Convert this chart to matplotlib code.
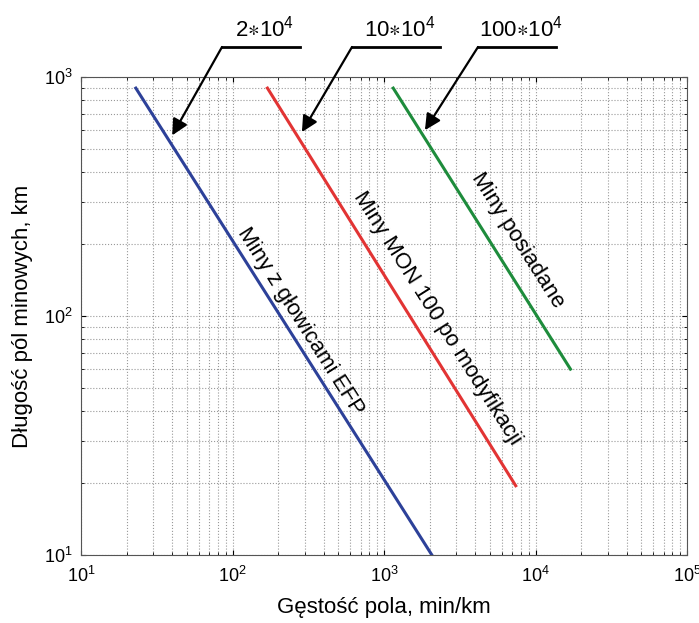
import matplotlib
matplotlib.use("Agg")
import matplotlib.pyplot as plt
from matplotlib.lines import Line2D
import numpy as np

plt.rcParams['font.family'] = ['Liberation Sans', 'DejaVu Sans']
plt.rcParams['mathtext.default'] = 'regular'

# koncowe punkty prostych (gestosc, dlugosc)
x_efp = [23, 2070]
y_efp = [900, 10]
x_mon = [170, 7400]
y_mon = [900, 19.5]
x_pos = [1150, 17000]
y_pos = [900, 60]

etykiety = ['Miny z głowicami EFP', 'Miny MON 100 po modyfikacji', 'Miny posiadane']
ilosci = [r'2$\ast$10$^4$', r'10$\ast$10$^4$', r'100$\ast$10$^4$']

fig = plt.figure(figsize=(6.99, 6.23), dpi=100)
ax = fig.add_axes([0.1159, 0.1091, 0.867, 0.767])

ax.plot(x_efp, y_efp, color='#2d4199', lw=2.2)
ax.plot(x_mon, y_mon, color='#e23434', lw=2.2)
ax.plot(x_pos, y_pos, color='#1e8c3c', lw=2.2)

ax.set_xscale('log')
ax.set_yscale('log')
ax.set_xlim(10, 1e5)
ax.set_ylim(10, 1e3)
ax.grid(True, which='both', linestyle=':', color='#999999', lw=0.8)
ax.tick_params(which='both', direction='in', top=True, right=True, labelsize=13)
ax.tick_params(axis='x', which='major', pad=8)
ax.tick_params(axis='y', which='major', pad=6)
for s in ax.spines.values():
    s.set_color('#555555')

ax.set_xlabel('Gęstość pola, min/km', fontsize=16, labelpad=8)
ax.set_ylabel('Długość pól minowych, km', fontsize=16, labelpad=8)

kat = -57.6
ax.text(279, 95, etykiety[0], rotation=kat, rotation_mode='anchor',
        ha='center', va='center', fontsize=16)
ax.text(2239, 98, etykiety[1], rotation=kat, rotation_mode='anchor',
        ha='center', va='center', fontsize=16)
ax.text(7674, 208, etykiety[2], rotation=kat, rotation_mode='anchor',
        ha='center', va='center', fontsize=16)

# strzalki z opisami ilosci min
W, H = 699.0, 623.0
groty = [(40, 571), (287, 589), (1862, 600)]
kreski = [(222, 300), (352, 440), (478, 556)]
for (gx, gy), (k0, k1), opis in zip(groty, kreski, ilosci):
    fig.add_artist(Line2D([k0 / W, k1 / W], [1 - 47 / H, 1 - 47 / H], color='k', lw=2))
    ax.annotate('', xy=(gx, gy), xycoords='data',
                xytext=(k0 / W, 1 - 47 / H), textcoords='figure fraction',
                arrowprops=dict(arrowstyle='-|>', color='k', lw=1.6, mutation_scale=24,
                                shrinkA=0, shrinkB=0),
                annotation_clip=False)
    fig.text((k0 + k1) / 2 / W + 0.005, 1 - 29 / H, opis, ha='center', va='center', fontsize=16)

fig.savefig('out.png', dpi=100)
